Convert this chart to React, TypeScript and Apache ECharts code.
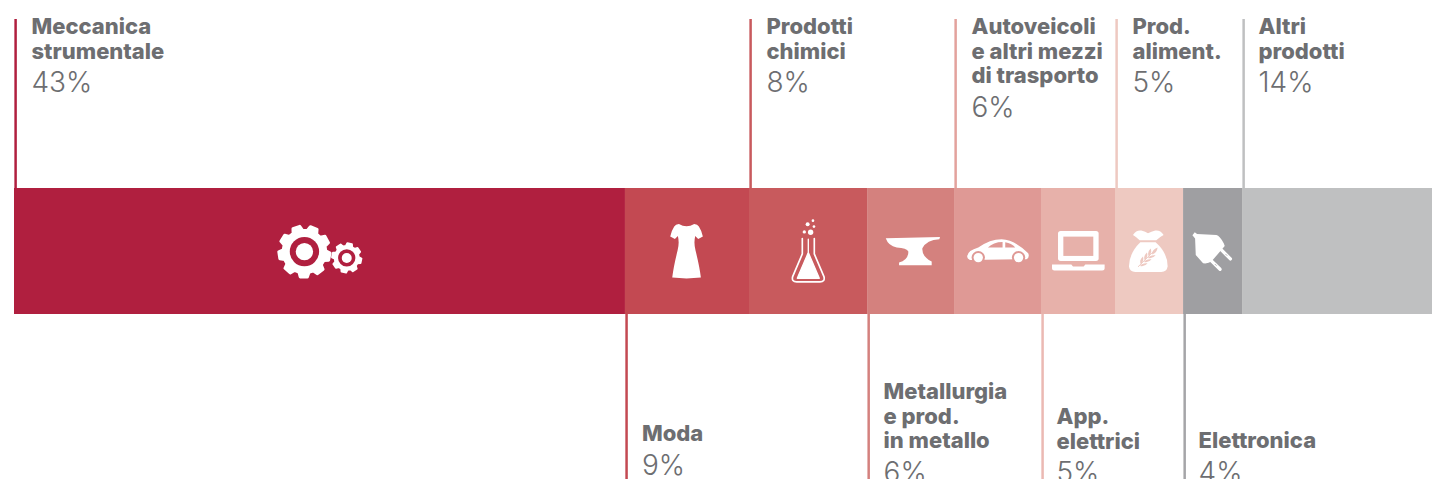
import React, { useEffect, useRef } from "react";
import * as echarts from "echarts";

const categories = ["Meccanica\nstrumentale", "Moda", "Prodotti\nchimici", "Metallurgia\ne prod.\nin metallo", "Autoveicoli\ne altri mezzi\ndi trasporto", "App.\nelettrici", "Prod.\naliment.", "Elettronica", "Altri\nprodotti"];
const percentLabels = ["43%", "9%", "8%", "6%", "6%", "5%", "5%", "4%", "14%"];
const barValues = [43, 8.73, 8.31, 6.12, 6.12, 5.21, 4.79, 4.15, 13.37];
const colors = ["#B01F3F", "#C34952", "#C85A5D", "#D4817E", "#DF9995", "#E7B1AA", "#EEC9C1", "#9F9FA2", "#BFC0C1"];
const lineColors = ["#B01F3F", "#C34952", "#C85A5D", "#D4817E", "#E3A29D", "#EBB9B3", "#EEC9C1", "#A5A5A8", "#BFC0C1"];
const sides = ["top", "bottom", "top", "bottom", "top", "bottom", "top", "bottom", "top"];
const nameTop = [14, 421, 14, 379, 14, 404, 14, 428, 14];
const textOffset = [17.5, 17, 17.5, 16.5, 17.5, 15.5, 17.5, 15.5, 16.5];

const TEXT = "#6D6E71";
const FONT = "Inter";
const LINE_H = 24.5;

type Part = { d: string; fill?: "w" | "bg" | "none"; stroke?: "w" | "bg"; sw?: number };

function gear(cx: number, cy: number, ro: number, ri: number, teeth: number) {
  let d = "";
  const step = (Math.PI * 2) / teeth;
  for (let i = 0; i < teeth; i++) {
    const a = i * step + 0.2;
    const pts = [[ri, a - step * 0.34], [ro, a - step * 0.2], [ro, a + step * 0.2], [ri, a + step * 0.34]];
    pts.forEach(([r, t], k) => {
      d += `${i === 0 && k === 0 ? "M" : "L"}${(cx + r * Math.cos(t)).toFixed(1)} ${(cy + r * Math.sin(t)).toFixed(1)}`;
    });
  }
  return d + "Z";
}
function disc(cx: number, cy: number, r: number) {
  return `M${cx - r} ${cy}A${r} ${r} 0 1 1 ${cx + r} ${cy}A${r} ${r} 0 1 1 ${cx - r} ${cy}Z`;
}

const icons: { anchor: [number, number]; parts: Part[] }[] = [
  {
    anchor: [178, 213],
    parts: [
      { d: gear(133, 215, 77, 64, 9), fill: "w", stroke: "w", sw: 9 },
      { d: disc(133, 215, 44), fill: "bg" },
      { d: disc(133, 215, 26), fill: "w" },
      { d: gear(260, 234, 44, 36, 8), fill: "w", stroke: "w", sw: 6 },
      { d: disc(260, 234, 26), fill: "bg" },
      { d: disc(260, 234, 15), fill: "w" },
    ],
  },
  {
    anchor: [1283, 213],
    parts: [
      { d: "M1260 132Q1283 146 1306 132Q1316 132 1320 140Q1328 152 1332 170L1318 177L1309 168Q1304 190 1310 212Q1322 260 1326 293Q1283 298 1240 293Q1244 260 1256 212Q1262 190 1257 168L1248 177L1234 170Q1238 152 1246 140Q1250 132 1260 132Z", fill: "w" },
    ],
  },
  {
    anchor: [204, 213],
    parts: [
      { d: "M187 176L187 222L158 290Q154 306 170 306L240 306Q256 306 252 290L223 222L223 176", fill: "none", stroke: "w", sw: 5 },
      { d: "M205 178L205 218L172 295L238 295L205 218", fill: "w", stroke: "w", sw: 4 },
      { d: disc(212, 157, 8), fill: "w" },
      { d: disc(193, 156, 5), fill: "w" },
      { d: disc(203, 133, 6), fill: "w" },
      { d: disc(219, 122, 4), fill: "w" },
      { d: disc(222, 140, 4), fill: "w" },
    ],
  },
  {
    anchor: [511, 213],
    parts: [
      { d: "M437 175L600 171L598 178Q560 180 547 205Q545 230 575 245L575 256L477 256L477 248Q505 240 505 215Q500 205 470 203Q445 198 437 175Z", fill: "w" },
    ],
  },
  {
    anchor: [772, 213],
    parts: [
      { d: "M682 228Q684 212 715 203Q750 178 785 178Q825 180 865 220Q870 232 860 238L690 240Q680 236 682 228Z", fill: "w" },
      { d: "M744 203Q760 186 788 186L788 203Z", fill: "bg" },
      { d: "M796 187Q815 190 826 203L796 203Z", fill: "bg" },
      { d: disc(715, 233, 20), fill: "bg" },
      { d: disc(836, 233, 20), fill: "bg" },
      { d: disc(715, 233, 14), fill: "w" },
      { d: disc(836, 233, 14), fill: "w" },
    ],
  },
  {
    anchor: [1014, 213],
    parts: [
      { d: "M963 153L1069 153Q1077 153 1077 161L1077 235Q1077 243 1069 243L963 243Q955 243 955 235L955 161Q955 153 963 153Z", fill: "w" },
      { d: "M971 170L1061 170L1061 228L971 228Z", fill: "bg" },
      { d: "M937 254L995 254L1000 260L1032 260L1037 254L1095 254L1095 266Q1095 272 1088 272L944 272Q937 272 937 266Z", fill: "w" },
    ],
  },
  {
    anchor: [1227, 213],
    parts: [
      { d: "M1180 165Q1190 150 1205 152Q1218 155 1225 160Q1235 155 1247 152Q1262 150 1272 165Q1258 172 1250 181L1200 181Q1192 172 1180 165Z", fill: "w" },
      { d: "M1202 187L1248 187Q1285 220 1284 260Q1282 276 1265 276L1187 276Q1170 276 1168 260Q1168 220 1202 187Z", fill: "w" },
      { d: "M1196 260L1248 208", fill: "none", stroke: "bg", sw: 3 },
      { d: "M1254 203Q1252 220 1237 224Q1237 209 1254 203Z", fill: "bg" },
      { d: "M1233 206Q1238 218 1228 230Q1221 218 1233 206Z", fill: "bg" },
      { d: "M1248 226Q1238 238 1225 234Q1232 224 1248 226Z", fill: "bg" },
      { d: "M1222 218Q1226 230 1216 242Q1209 230 1222 218Z", fill: "bg" },
      { d: "M1236 238Q1226 250 1213 246Q1220 236 1236 238Z", fill: "bg" },
      { d: "M1210 230Q1214 242 1204 254Q1197 242 1210 230Z", fill: "bg" },
      { d: "M1224 250Q1214 262 1201 258Q1208 248 1224 250Z", fill: "bg" },
    ],
  },
  {
    anchor: [1417, 213],
    parts: [
      { d: "M1358 166L1365 157L1372 162L1430 165Q1440 167 1452 190L1455 198L1415 245Q1405 252 1390 250L1368 225L1366 176Z", fill: "w" },
      { d: "M1445 210L1472 237", fill: "none", stroke: "w", sw: 10 },
      { d: "M1412 240L1441 268", fill: "none", stroke: "w", sw: 10 },
      { d: "M1459 224L1461 226", fill: "none", stroke: "bg", sw: 3 },
      { d: "M1427 254L1429 256", fill: "none", stroke: "bg", sw: 3 },
    ],
  },
];

const starts = barValues.map((_, i) => barValues.slice(0, i).reduce((a, b) => a + b, 0));
const total = barValues.reduce((a, b) => a + b, 0);

export default function App() {
  const ref = useRef<HTMLDivElement>(null);
  useEffect(() => {
    document.body.style.margin = "0";
    const chart = echarts.init(ref.current!, null, { renderer: "svg" });
    chart.setOption({
      animation: false,
      grid: { left: 14, right: 0, top: 188, height: 126 },
      xAxis: { type: "value", min: 0, max: total, show: false },
      yAxis: { type: "category", data: ["Export"], show: false },
      series: [
        ...barValues.map((v, i) => ({
          type: "bar",
          stack: "total",
          name: categories[i].replace(/\n/g, " "),
          data: [v],
          barWidth: "100%",
          silent: true,
          itemStyle: { color: colors[i] },
        })),
        {
          type: "custom",
          silent: true,
          clip: false,
          z: 10,
          encode: { x: 0, y: 1 },
          data: barValues.map((v, i) => [starts[i], 0, v, i]),
          renderItem: (_: any, api: any) => {
            const i = api.value(3);
            const start = api.value(0);
            const x0 = api.coord([start, 0])[0];
            const c = api.coord([start + api.value(2) / 2, 0]);
            const top = sides[i] === "top";
            const lx = x0 + 1.6;
            const tx = x0 + textOffset[i];
            const names = categories[i].split("\n").length;
            const icon = icons[i];
            const col = (k?: string) => (k === "w" ? "#fff" : k === "bg" ? colors[i] : "none");
            const children: any[] = [
              {
                type: "line",
                shape: top ? { x1: lx, y1: 19, x2: lx, y2: 188 } : { x1: lx, y1: 314, x2: lx, y2: 479 },
                style: { stroke: lineColors[i], lineWidth: 2.5 },
              },
              {
                type: "text",
                style: {
                  x: tx, y: nameTop[i], text: categories[i], fill: TEXT,
                  fontFamily: FONT, fontSize: 22, fontWeight: 800, lineHeight: LINE_H,
                  verticalAlign: "top",
                },
              },
              {
                type: "text",
                style: {
                  x: tx, y: nameTop[i] + names * LINE_H + 5, text: percentLabels[i], fill: TEXT,
                  fontFamily: FONT, fontSize: 28, fontWeight: 300,
                  verticalAlign: "top",
                },
              },
            ];
            if (icon) {
              children.push({
                type: "group",
                x: c[0] - icon.anchor[0] / 3,
                y: c[1] - icon.anchor[1] / 3,
                scaleX: 1 / 3,
                scaleY: 1 / 3,
                children: icon.parts.map((p) => ({
                  type: "path",
                  shape: { pathData: p.d },
                  style: { fill: col(p.fill), stroke: p.stroke ? col(p.stroke) : "none", lineWidth: p.sw || 0, lineJoin: "round", lineCap: "round" },
                })),
              });
            }
            return { type: "group", children };
          },
        },
      ],
    });
    return () => chart.dispose();
  }, []);
  return <div ref={ref} style={{ width: 1432, height: 479, overflow: "hidden" }} />;
}
